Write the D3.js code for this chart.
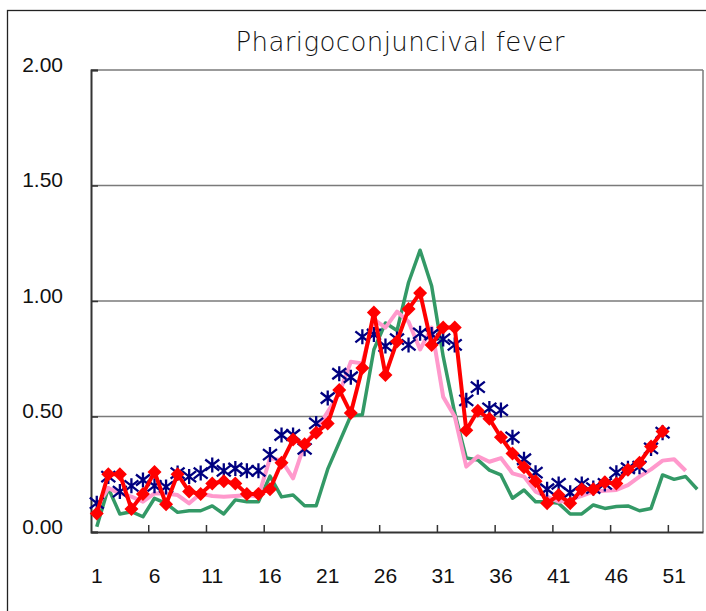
<!DOCTYPE html>
<html>
<head>
<meta charset="utf-8">
<script src="https://cdn.jsdelivr.net/npm/d3@7"></script>
<style>
  body { margin: 0; background: #fff; }
  svg { display: block; }
</style>
</head>
<body>
<div id="chart"></div>
<script>
// week numbers on the category axis
const weeks = [1, 2, 3, 4, 5, 6, 7, 8, 9, 10, 11, 12, 13, 14, 15, 16, 17, 18, 19, 20,
  21, 22, 23, 24, 25, 26, 27, 28, 29, 30, 31, 32, 33, 34, 35, 36, 37, 38, 39, 40,
  41, 42, 43, 44, 45, 46, 47, 48, 49, 50, 51, 52, 53];
const labelWeeks = [1, 6, 11, 16, 21, 26, 31, 36, 41, 46, 51];
const boundaryWeeks = [6, 11, 16, 21, 26, 31, 36, 41, 46, 51];
const yTicks = [0, 0.5, 1, 1.5, 2];

// series values (per week)
const greenVals = [0.023, 0.19, 0.078, 0.088, 0.066, 0.146, 0.124, 0.085, 0.092, 0.092,
  0.113, 0.078, 0.139, 0.131, 0.131, 0.242, 0.152, 0.16, 0.114, 0.114,
  0.272, 0.388, 0.503, 0.508, 0.79, 0.905, 0.872, 1.08, 1.22, 1.065,
  0.76, 0.515, 0.32, 0.312, 0.268, 0.247, 0.146, 0.182, 0.131, 0.131,
  0.124, 0.078, 0.078, 0.117, 0.102, 0.11, 0.113, 0.092, 0.102, 0.247,
  0.228, 0.24, 0.185];
const pinkVals = [0.11, 0.19, 0.167, 0.153, 0.131, 0.167, 0.167, 0.16, 0.124, 0.167,
  0.156, 0.153, 0.156, 0.16, 0.153, 0.32, 0.31, 0.232, 0.38, 0.44,
  0.52, 0.6, 0.737, 0.73, 0.92, 0.885, 0.954, 0.91, 0.79, 0.885,
  0.585, 0.5, 0.283, 0.328, 0.304, 0.32, 0.254, 0.24, 0.175, 0.153,
  0.131, 0.139, 0.156, 0.175, 0.179, 0.182, 0.203, 0.24, 0.271, 0.309,
  0.315, 0.265];
const blueVals = [0.125, 0.24, 0.175, 0.2, 0.225, 0.2, 0.195, 0.255, 0.24, 0.255,
  0.29, 0.265, 0.275, 0.265, 0.265, 0.335, 0.42, 0.42, 0.36, 0.47,
  0.58, 0.685, 0.67, 0.845, 0.855, 0.805, 0.835, 0.81, 0.86, 0.855,
  0.835, 0.81, 0.57, 0.627, 0.535, 0.528, 0.41, 0.315, 0.257, 0.185,
  0.208, 0.17, 0.208, 0.19, 0.208, 0.257, 0.276, 0.283, 0.362, 0.43];
const redVals = [0.08, 0.25, 0.25, 0.1, 0.165, 0.26, 0.12, 0.25, 0.175, 0.165,
  0.21, 0.22, 0.21, 0.165, 0.165, 0.185, 0.3, 0.4, 0.38, 0.43,
  0.47, 0.615, 0.515, 0.71, 0.95, 0.68, 0.825, 0.965, 1.035, 0.81,
  0.885, 0.885, 0.44, 0.525, 0.49, 0.41, 0.34, 0.28, 0.22, 0.125,
  0.16, 0.125, 0.185, 0.185, 0.215, 0.21, 0.27, 0.3, 0.37, 0.435];

const W = 706, H = 611;
const margin = { left: 91, right: 3, top: 70, bottom: 79 };

const svg = d3.select('#chart').append('svg')
  .attr('width', W)
  .attr('height', H);

// outer chart frame
svg.append('rect')
  .attr('x', 7.5).attr('y', 10.5)
  .attr('width', 760).attr('height', 660)
  .attr('fill', 'none')
  .attr('stroke', '#222')
  .attr('stroke-width', 1.3);

const x = d3.scaleBand()
  .domain(weeks)
  .range([margin.left, W - margin.right]);
const y = d3.scaleLinear()
  .domain([0, 2])
  .range([H - margin.bottom, margin.top]);
const cx = w => x(w) + x.bandwidth() / 2;

// gridlines
svg.append('g')
  .selectAll('line')
  .data(yTicks.slice(1))
  .enter().append('line')
  .attr('x1', margin.left).attr('x2', W - margin.right)
  .attr('y1', d => y(d)).attr('y2', d => y(d))
  .attr('stroke', '#7a7a7a')
  .attr('stroke-width', 1.3);

// right border of plot area
svg.append('line')
  .attr('x1', W - margin.right).attr('x2', W - margin.right)
  .attr('y1', y(2)).attr('y2', y(0))
  .attr('stroke', '#7a7a7a')
  .attr('stroke-width', 1.5);

// y axis
const yAxis = svg.append('g')
  .attr('transform', `translate(${margin.left},0)`)
  .call(d3.axisLeft(y).tickValues(yTicks).tickSize(-7).tickPadding(28).tickFormat(d3.format('.2f')));
yAxis.select('.domain').attr('stroke', '#333').attr('stroke-width', 2);
yAxis.selectAll('.tick line').attr('stroke', '#333').attr('stroke-width', 1.5);
yAxis.selectAll('.tick text')
  .attr('font-family', '"Liberation Sans", Arial, sans-serif')
  .attr('font-size', 21)
  .attr('fill', '#111')
  .attr('dy', '0.05em');

// x axis: labels
const xAxis = svg.append('g')
  .attr('transform', `translate(0,${y(0)})`)
  .call(d3.axisBottom(x).tickValues(labelWeeks).tickSize(0).tickPadding(36));
xAxis.select('.domain').attr('stroke', '#333').attr('stroke-width', 2);
xAxis.selectAll('.tick text')
  .attr('font-family', '"Liberation Sans", Arial, sans-serif')
  .attr('font-size', 21)
  .attr('fill', '#111');

// x axis: tick marks between week groups
svg.append('g')
  .selectAll('line')
  .data(boundaryWeeks)
  .enter().append('line')
  .attr('x1', d => x(d)).attr('x2', d => x(d))
  .attr('y1', y(0)).attr('y2', y(0) - 7)
  .attr('stroke', '#333')
  .attr('stroke-width', 1.5);

// title
svg.append('text')
  .attr('x', 400)
  .attr('y', 51)
  .attr('text-anchor', 'middle')
  .attr('font-family', '"DejaVu Sans", sans-serif')
  .attr('font-weight', 300)
  .attr('font-size', 26)
  .attr('textLength', 329)
  .attr('fill', '#111')
  .text('Pharigoconjuncival fever');

const line = d3.line()
  .x((d, i) => cx(weeks[i]))
  .y(d => y(d));

// green and pink: plain lines
svg.append('path')
  .datum(greenVals)
  .attr('d', line)
  .attr('fill', 'none')
  .attr('stroke', '#339966')
  .attr('stroke-width', 3.5)
  .attr('stroke-linejoin', 'round');

svg.append('path')
  .datum(pinkVals)
  .attr('d', line)
  .attr('fill', 'none')
  .attr('stroke', '#ff99cc')
  .attr('stroke-width', 4)
  .attr('stroke-linejoin', 'round');

// navy asterisk markers (no visible connecting line)
const star = 'M0,-7.5L0,7.5M-7,-5.5L7,5.5M-7,5.5L7,-5.5';
svg.append('g')
  .selectAll('path')
  .data(blueVals)
  .enter().append('path')
  .attr('transform', (d, i) => `translate(${cx(weeks[i])},${y(d)})`)
  .attr('d', star)
  .attr('fill', 'none')
  .attr('stroke', '#000080')
  .attr('stroke-width', 2.3);

// red line with diamond markers
svg.append('path')
  .datum(redVals)
  .attr('d', line)
  .attr('fill', 'none')
  .attr('stroke', '#ff0000')
  .attr('stroke-width', 4)
  .attr('stroke-linejoin', 'round');

svg.append('g')
  .selectAll('path')
  .data(redVals)
  .enter().append('path')
  .attr('transform', (d, i) => `translate(${cx(weeks[i])},${y(d)})`)
  .attr('d', 'M0,-7L7,0L0,7L-7,0Z')
  .attr('fill', '#ff0000');
</script>
</body>
</html>
